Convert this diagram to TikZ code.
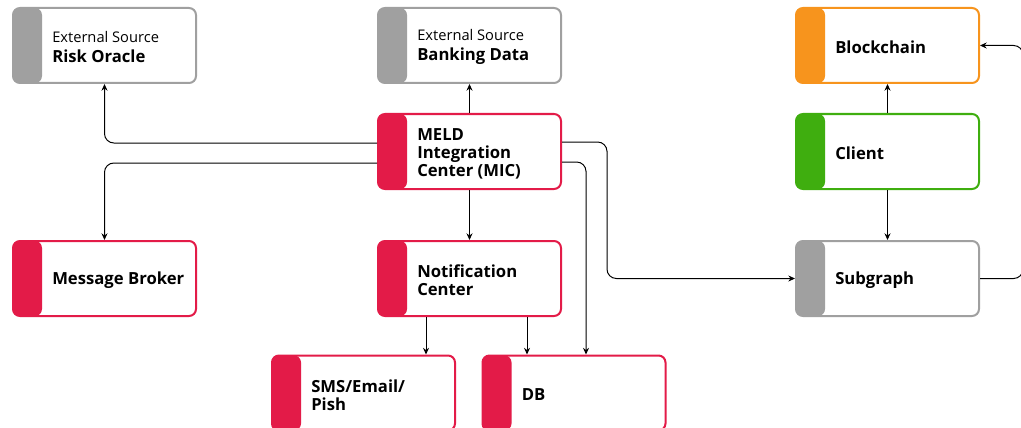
\documentclass[tikz,border=0pt]{standalone}
\usepackage{fontspec}
\setmainfont[Ligatures=NoCommon]{Open Sans}
\usetikzlibrary{arrows.meta,calc}
\definecolor{cred}{HTML}{E31B48}
\definecolor{cgray}{HTML}{A0A0A0}
\definecolor{corange}{HTML}{F7941D}
\definecolor{cgreen}{HTML}{3FAE0F}
\tikzset{
  box/.style={draw=#1, fill=white, line width=1.5pt, rounded corners=5.25pt,
    minimum width=137.25pt, minimum height=56.25pt, inner sep=0pt,
    path picture={\fill[#1] (path picture bounding box.north west) rectangle ([xshift=21.75pt]path picture bounding box.south west);}},
  lbl/.style={anchor=west, align=left, inner sep=0pt, font=\fontsize{12.5}{13.5}\selectfont\bfseries},
  conn/.style={draw=black, line width=0.75pt, rounded corners=7pt, -{Stealth[length=5pt,width=4.5pt]}},
}
\begin{document}
\begin{tikzpicture}[x=0.75pt,y=-0.75pt]
\useasboundingbox (0,0) rectangle (1021,428);
% boxes
\node[box=cgray] (ro) at (104.5,45.5) {};
\node[box=cgray] (bd) at (469.5,45.5) {};
\node[box=corange] (bc) at (887.5,45.5) {};
\node[box=cred] (mic) at (469.5,151.5) {};
\node[box=cgreen] (cl) at (887.5,151.5) {};
\node[box=cred] (mb) at (104.5,278.5) {};
\node[box=cred] (nc) at (469.5,278.5) {};
\node[box=cgray] (sg) at (887.5,278.5) {};
\node[box=cred] (sms) at (363.5,393) {};
\node[box=cred] (db) at (574,393) {};
% labels
\node[lbl] (rot) at ($(ro.west)+(40,1.5)$) {{\fontsize{11}{12}\selectfont\mdseries External Source}\\[1pt]Risk Oracle};
\node[lbl] (bdt) at ($(bd.west)+(40,1.5)$) {{\fontsize{11}{12}\selectfont\mdseries External Source}\\[1pt]Banking Data};
\node[lbl] (bct) at ($(bc.west)+(40,2)$) {Blockchain};
\node[lbl] (mict) at ($(mic.west)+(40,2)$) {MELD\\Integration\\Center (MIC)};
\node[lbl] (clt) at ($(cl.west)+(40,2)$) {Client};
\node[lbl] (mbt) at ($(mb.west)+(40,2)$) {Message Broker};
\node[lbl] (nct) at ($(nc.west)+(40,2)$) {Notification\\Center};
\node[lbl] (sgt) at ($(sg.west)+(40,2)$) {Subgraph};
\node[lbl] (smst) at ($(sms.west)+(40,2)$) {SMS/Email/\\Pish};
\node[lbl] (dbt) at ($(db.west)+(40,2)$) {DB};
% connectors
\draw[conn] ($(mic.west)+(0,-8.5)$) -| (ro.south);
\draw[conn] ($(mic.west)+(0,11.5)$) -| (mb.north);
\draw[conn] (mic.north) -- (bd.south);
\draw[conn] (mic.south) -- (nc.north);
\draw[conn] ($(mic.east)+(0,-9.5)$) -- ++(45,0) |- (sg.west);
\draw[conn] ($(mic.east)+(0,10.5)$) -| ($(db.north)+(12,0)$);
\coordinate (s1) at ($(sms.north)+(62.5,0)$);
\coordinate (d1) at ($(db.north)+(-47,0)$);
\draw[conn] (s1 |- nc.south) -- (s1);
\draw[conn] (d1 |- nc.south) -- (d1);
\draw[conn] (cl.north) -- (bc.south);
\draw[conn] (cl.south) -- (sg.north);
\draw[conn] (sg.east) -- ++(43,0) |- (bc.east);
\end{tikzpicture}
\end{document}
